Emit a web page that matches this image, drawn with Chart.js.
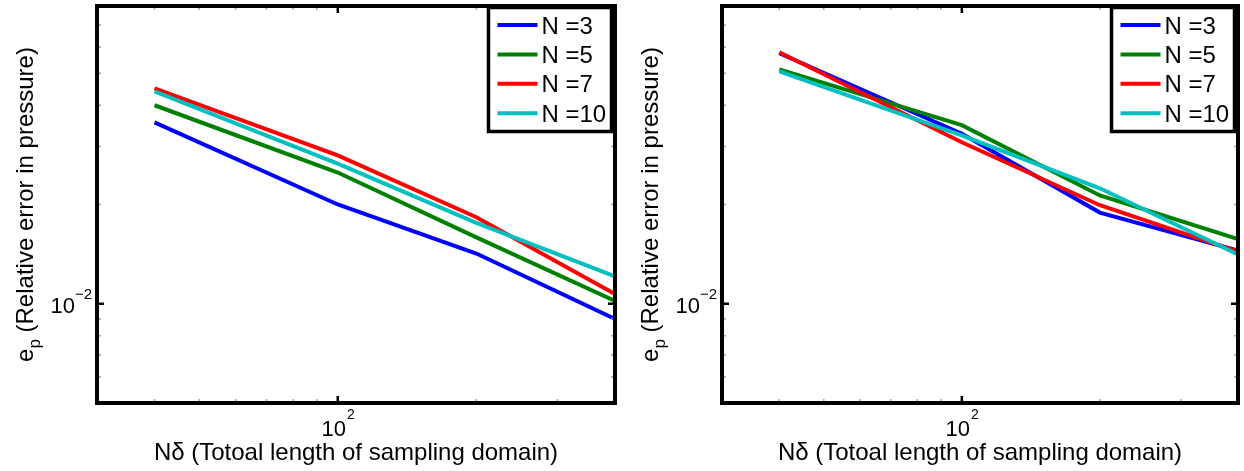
<!DOCTYPE html>
<html>
<head>
<meta charset="utf-8">
<script src="https://cdn.jsdelivr.net/npm/chart.js@4.4.0/dist/chart.umd.min.js"></script>
<style>
  html, body { margin: 0; padding: 0; background: #fff; }
  #wrap { position: relative; width: 1244px; height: 471px; overflow: hidden; }
  canvas { position: absolute; top: 0; }
  #chartLeft { left: 0; }
  #chartRight { left: 625px; }
</style>
</head>
<body>
<div id="wrap">
  <canvas id="chartLeft" width="625" height="471"></canvas>
  <canvas id="chartRight" width="619" height="471"></canvas>
</div>
<script>
// sampling-domain lengths (N*delta)
const lengths = [40, 100, 200, 400];
const seriesNames = ["N =3", "N =5", "N =7", "N =10"];
const seriesColors = ["#0000ff", "#008000", "#ff0000", "#00bfbf"];

// relative pressure error, left panel
const leftN3 = [0.0355, 0.0200, 0.0142, 0.0090];
const leftN5 = [0.0400, 0.0250, 0.0159, 0.0102];
const leftN7 = [0.0450, 0.0282, 0.0183, 0.0107];
const leftN10 = [0.0441, 0.0266, 0.0176, 0.0121];

// relative pressure error, right panel
const rightN3 = [0.0575, 0.0328, 0.0189, 0.0145];
const rightN5 = [0.0514, 0.0348, 0.0213, 0.0157];
const rightN7 = [0.0579, 0.0309, 0.0199, 0.0144];
const rightN10 = [0.0507, 0.0324, 0.0224, 0.0141];

// axis ticks (log axes, major ones get a label)
const xMinorTicks = [40, 50, 60, 70, 80, 90, 200, 300];
const xMajorTicks = [100];
const yMinorTicks = [0.006, 0.007, 0.008, 0.009, 0.02, 0.03, 0.04, 0.05, 0.06, 0.07];
const yMajorTicks = [0.01];
const xTickLabels = [["10", "2"]];
const yTickLabels = [["10", "\u22122"]];

const xTitle = "N\u03b4 (Totoal length of sampling domain)";
const yTitleMain = "e";
const yTitleSub = "p";
const yTitleRest = " (Relative error in pressure)";

const FONT = '"Liberation Sans", Arial, sans-serif';

function font(size) {
  return size + "px " + FONT;
}

function textWidth(ctx, text, size) {
  ctx.font = font(size);
  return ctx.measureText(text).width;
}

// draws text with its left edge at x on the given baseline
function drawText(ctx, text, x, y, size) {
  ctx.font = font(size);
  ctx.textAlign = "left";
  ctx.textBaseline = "alphabetic";
  ctx.fillText(text, x, y);
}

function seg(ctx, x1, y1, x2, y2) {
  ctx.beginPath();
  ctx.moveTo(x1, y1);
  ctx.lineTo(x2, y2);
  ctx.stroke();
}

const frame = {
  id: "frame",
  afterDraw(chart) {
    const { ctx, chartArea: a } = chart;
    const xs = chart.scales.x;
    const ys = chart.scales.y;
    ctx.save();

    // minor ticks on all four sides
    ctx.strokeStyle = "#a0a0a0";
    ctx.lineWidth = 1.5;
    xMinorTicks.forEach((v) => {
      const px = xs.getPixelForValue(v);
      seg(ctx, px, a.bottom, px, a.bottom - 4);
      seg(ctx, px, a.top, px, a.top + 4);
    });
    yMinorTicks.forEach((v) => {
      const py = ys.getPixelForValue(v);
      seg(ctx, a.left, py, a.left + 4, py);
      seg(ctx, a.right, py, a.right - 4, py);
    });

    // major ticks
    ctx.strokeStyle = "#000";
    ctx.lineWidth = 2.5;
    xMajorTicks.forEach((v) => {
      const px = xs.getPixelForValue(v);
      seg(ctx, px, a.bottom, px, a.bottom - 7);
      seg(ctx, px, a.top, px, a.top + 7);
    });
    yMajorTicks.forEach((v) => {
      const py = ys.getPixelForValue(v);
      seg(ctx, a.left, py, a.left + 7, py);
      seg(ctx, a.right, py, a.right - 7, py);
    });

    // box
    ctx.lineWidth = 4;
    ctx.strokeRect(a.left, a.top, a.right - a.left, a.bottom - a.top);

    // tick labels
    ctx.fillStyle = "#000";
    xMajorTicks.forEach((v, i) => {
      const [base, exp] = xTickLabels[i];
      const px = xs.getPixelForValue(v);
      const wb = textWidth(ctx, base, 22);
      drawText(ctx, base, px - wb / 2 - 4, a.bottom + 33, 22);
      drawText(ctx, exp, px + wb / 2 - 3, a.bottom + 16, 14);
    });
    yMajorTicks.forEach((v, i) => {
      const [base, exp] = yTickLabels[i];
      const py = ys.getPixelForValue(v);
      const we = textWidth(ctx, exp, 15);
      const wb = textWidth(ctx, base, 22);
      const right = a.left - 5;
      drawText(ctx, exp, right - we, py - 5, 15);
      drawText(ctx, base, right - we - wb, py + 9, 22);
    });

    // x title
    const wt = textWidth(ctx, xTitle, 24);
    drawText(ctx, xTitle, (a.left + a.right) / 2 - wt / 2, a.bottom + 57, 24);

    // y title, rotated, with the subscript p
    ctx.save();
    ctx.translate(a.left - 64, (a.top + a.bottom) / 2);
    ctx.rotate(-Math.PI / 2);
    const w1 = textWidth(ctx, yTitleMain, 24);
    const w2 = textWidth(ctx, yTitleSub, 17);
    const w3 = textWidth(ctx, yTitleRest, 24);
    let tx = -(w1 + w2 + w3) / 2;
    drawText(ctx, yTitleMain, tx, 0, 24);
    tx += w1;
    drawText(ctx, yTitleSub, tx, 7, 17);
    tx += w2;
    drawText(ctx, yTitleRest, tx, 0, 24);
    ctx.restore();

    // legend in the upper right corner
    const bw = 123, bh = 124;
    const bx = a.right - 3.5 - bw;
    const by = a.top + 1.5;
    ctx.fillStyle = "#fff";
    ctx.fillRect(bx, by, bw, bh);
    ctx.strokeStyle = "#000";
    ctx.lineWidth = 3.5;
    ctx.strokeRect(bx, by, bw, bh);
    chart.data.datasets.forEach((ds, i) => {
      const ry = a.top + 19 + i * 29.4;
      ctx.strokeStyle = ds.borderColor;
      ctx.lineWidth = 4;
      seg(ctx, bx + 9, ry, bx + 49, ry);
      ctx.fillStyle = "#000";
      drawText(ctx, ds.label, bx + 53, ry + 8.5, 24);
    });

    ctx.restore();
  },
};

function makeChart(id, values, padRight) {
  return new Chart(document.getElementById(id), {
    type: "line",
    data: {
      datasets: seriesNames.map((name, i) => ({
        label: name,
        data: lengths.map((x, j) => ({ x: x, y: values[i][j] })),
        borderColor: seriesColors[i],
        backgroundColor: seriesColors[i],
        borderWidth: 4,
        pointRadius: 0,
        tension: 0,
        fill: false,
        order: seriesNames.length - i,
      })),
    },
    options: {
      responsive: false,
      animation: false,
      layout: { padding: { left: 97, top: 6, right: padRight, bottom: 68 } },
      plugins: { legend: { display: false }, tooltip: { enabled: false } },
      scales: {
        x: { type: "logarithmic", min: 30, max: 400, display: false },
        y: { type: "logarithmic", min: 0.005, max: 0.08, display: false },
      },
    },
    plugins: [frame],
  });
}

makeChart("chartLeft", [leftN3, leftN5, leftN7, leftN10], 10);
makeChart("chartRight", [rightN3, rightN5, rightN7, rightN10], 6);
</script>
</body>
</html>
